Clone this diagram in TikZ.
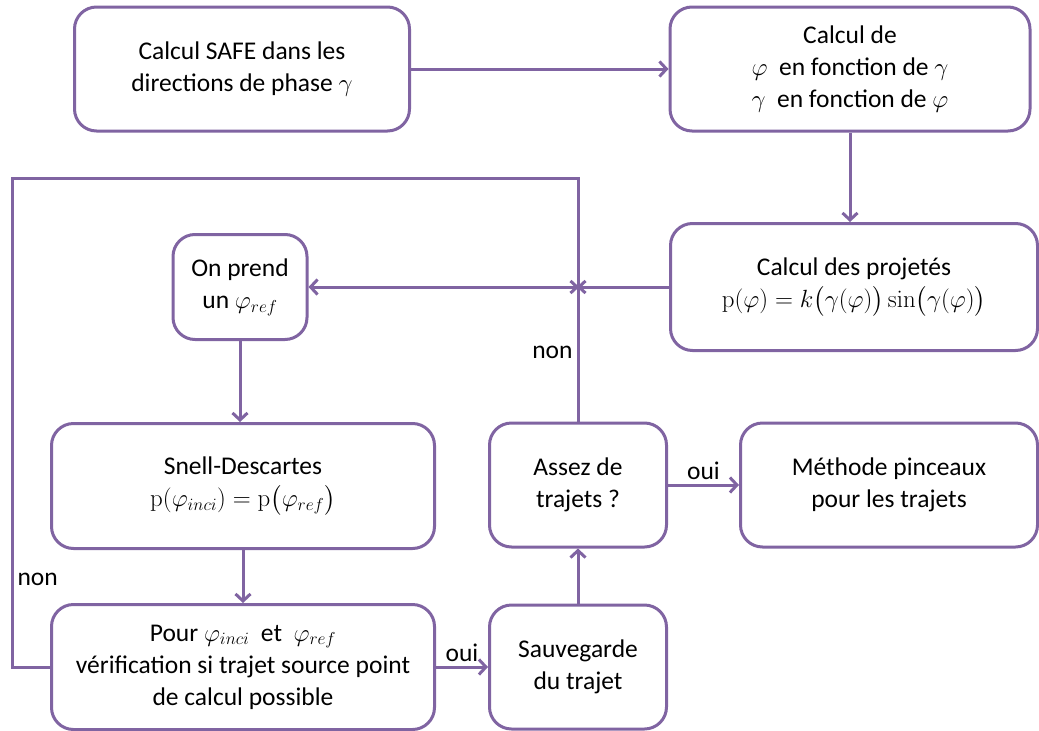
\documentclass[tikz,border=0pt]{standalone}
\usepackage{amsmath}
\usepackage[no-math]{fontspec}
\setmainfont{Carlito}
\usetikzlibrary{arrows.meta,positioning}
\definecolor{flowpurple}{RGB}{128,100,162}

\begin{document}
\begin{tikzpicture}[
  x=1pt, y=-1pt,
  font=\fontsize{25.5}{32}\selectfont,
  box/.style={rectangle, rounded corners=22pt, draw=flowpurple, line width=3pt, fill=white, align=center, inner sep=0pt},
  arr/.style={-{Straight Barb[length=7pt,width=15pt]}, line width=3pt, flowpurple},
  lbl/.style={text=black, inner sep=4pt}
]
\useasboundingbox (0,0) rectangle (1039,731);
% top row
\node[box, minimum width=335pt, minimum height=124pt] (safe) at (242,69) {Calcul SAFE dans les\\ directions de phase $\gamma$};
\node[box, minimum width=360pt, minimum height=124pt] (phi) at (850,69) {Calcul de\\ $\varphi$\ \ en fonction de $\gamma$\\ $\gamma$\ \ en fonction de $\varphi$};
% middle row
\node[box, minimum width=367pt, minimum height=127pt] (proj) at (854,287) {Calcul des projetés\\ $\mathrm{p}(\varphi)=k\bigl(\gamma(\varphi)\bigr)\sin\bigl(\gamma(\varphi)\bigr)$};
\node[box, minimum width=134pt, minimum height=105pt] (prend) at (240,287) {On prend\\ un $\varphi_{ref}$};
% lower rows
\node[box, minimum width=383pt, minimum height=125pt] (snell) at (243,486) {Snell-Descartes\\ $\mathrm{p}(\varphi_{inci})=\mathrm{p}\bigl(\varphi_{ref}\bigr)$};
\node[box, minimum width=383pt, minimum height=125pt] (verif) at (243,667) {Pour $\varphi_{inci}$\ \ et\ \ $\varphi_{ref}$\\ vérification si trajet source point\\ de calcul possible};
\node[box, minimum width=177pt, minimum height=124pt] (sauv) at (578,667) {Sauvegarde\\ du trajet};
\node[box, minimum width=177pt, minimum height=124pt] (assez) at (578,485) {Assez de\\ trajets ?};
\node[box, minimum width=297pt, minimum height=124pt] (pinc) at (889,485) {Méthode pinceaux\\ pour les trajets};
% junctions of the loop
\coordinate (merge) at (578,287);
\coordinate (top) at (578,178);
\coordinate (loop) at (12,178);
% arrows
\draw[arr] (safe) -- (phi);
\draw[arr] (phi.south) -- (phi.south |- proj.north);
\draw[arr] (proj.west) -- (prend.east);
\draw[arr] (prend.south) -- (prend.south |- snell.north);
\draw[arr] (snell) -- (verif);
\draw[arr] (verif) -- node[lbl, above] {oui} (sauv);
\draw[arr] (sauv) -- (assez);
\draw[arr] (assez) -- node[lbl, above] {oui} (pinc);
\draw[arr] (assez) -- node[lbl, left] {non} ([yshift=3pt]merge);
\draw[arr] (verif.west) -| node[lbl, pos=0.59, right] {non} (loop) -- (top) -- ([yshift=-3pt]merge);
\end{tikzpicture}
\end{document}
